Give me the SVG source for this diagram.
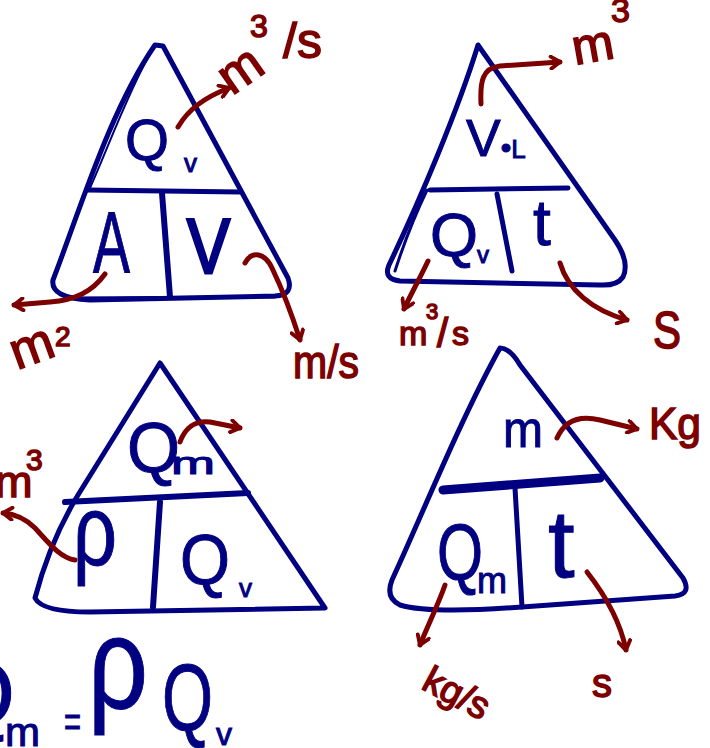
<svg xmlns="http://www.w3.org/2000/svg" width="710" height="748" viewBox="0 0 710 748">
<defs>
<style>
.b{fill:none;stroke:#000080;stroke-width:5;stroke-linecap:round;stroke-linejoin:round}
.r{fill:none;stroke:#7d0000;stroke-width:5;stroke-linecap:round;stroke-linejoin:round}
.tb{font-family:"Liberation Sans","DejaVu Sans",sans-serif;fill:#000080;stroke:#000080;stroke-width:1}
.tr{font-family:"Liberation Sans","DejaVu Sans",sans-serif;fill:#7d0000;stroke:#7d0000;stroke-width:1.5}
</style>
<marker id="ah" viewBox="0 0 10 10" markerWidth="3" markerHeight="3" refX="8" refY="5" orient="auto" markerUnits="strokeWidth">
<path d="M2,1 L8,5 L2,9" fill="none" stroke="#7d0000" stroke-width="2.6" stroke-linecap="round" stroke-linejoin="round"/>
</marker>
</defs>
<rect width="710" height="748" fill="#ffffff"/>

<g id="triangle-flow">
<path class="b" d="M163,46 L288,278 Q294,295 275,296 L90,300 Q50,298 53,280 C80,210 110,110 155,45 Z"/>
<path class="b" style="stroke-width:2" d="M151,52 C128,92 108,148 90,188"/>
<path class="b" style="stroke-width:3" d="M70,298 L275,297"/>
<path class="b" d="M87,190 L240,192"/>
<path class="b" style="stroke-width:6" d="M162,193 L170,297"/>
<text class="tb" x="125" y="160" font-size="58" textLength="44" lengthAdjust="spacingAndGlyphs">Q</text>
<text class="tb" x="184" y="172" font-size="26">v</text>
<text class="tb" x="93" y="273" font-size="88" textLength="37" lengthAdjust="spacingAndGlyphs">A</text>
<text class="tb" x="187" y="273" font-size="78" textLength="43" lengthAdjust="spacingAndGlyphs" style="stroke-width:3">V</text>
</g>

<g id="triangle-volume">
<path class="b" d="M478,45 L615,240 Q630,262 623,277 Q617,286 600,285 L400,281 Q383,279 389,265 C420,200 458,110 478,45 Z"/>
<path class="b" style="stroke-width:3" d="M395,271 C405,240 415,215 427,190"/>
<path class="b" d="M430,190 L568,188"/>
<path class="b" d="M497,194 L512,271"/>
<text class="tb" x="466" y="156" font-size="52">V<tspan font-size="30" dx="0" dy="2">•</tspan><tspan font-size="26" dx="0">L</tspan></text>
<text class="tb" x="430" y="256" font-size="62" textLength="48" lengthAdjust="spacingAndGlyphs">Q</text>
<text class="tb" x="477" y="263" font-size="24">v</text>
<text class="tb" x="533" y="245" font-size="64">t</text>
</g>

<g id="triangle-mass-flow">
<path class="b" d="M160,363 L325,608 L90,612 Q42,612 35,598 C45,560 58,528 78,495 L160,363 Z"/>
<path class="b" style="stroke-width:6" d="M65,502 L248,493"/>
<path class="b" style="stroke-width:6" d="M160,502 L153,607"/>
<text class="tb" x="127" y="472" font-size="70" textLength="53" lengthAdjust="spacingAndGlyphs">Q</text>
<text class="tb" x="171" y="474" font-size="32" textLength="44" lengthAdjust="spacingAndGlyphs">m</text>
<text class="tb" x="73" y="565" font-size="100" textLength="44" lengthAdjust="spacingAndGlyphs">ρ</text>
<text class="tb" x="180" y="584" font-size="70" textLength="50" lengthAdjust="spacingAndGlyphs">Q</text>
<text class="tb" x="239" y="597" font-size="26">v</text>
</g>

<g id="triangle-mass">
<path class="b" d="M500,348 Q510,348 520,365 L683,578 Q692,594 675,596 L522,607 Q430,614 400,605 Q385,598 392,580 C420,520 460,420 500,348 Z"/>
<path class="b" style="stroke-width:9" d="M443,490 L600,478"/>
<path class="b" d="M515,488 L522,607"/>
<text class="tb" x="503" y="447" font-size="52" textLength="40" lengthAdjust="spacingAndGlyphs">m</text>
<text class="tb" x="437" y="580" font-size="80" textLength="46" lengthAdjust="spacingAndGlyphs">Q</text>
<text class="tb" x="477" y="593" font-size="36" textLength="30" lengthAdjust="spacingAndGlyphs">m</text>
<text class="tb" x="548" y="577" font-size="96">t</text>
</g>

<g id="equation">
<text class="tb" x="-55" y="725" font-size="90">Q</text>
<text class="tb" x="5" y="746" font-size="40" textLength="35" lengthAdjust="spacingAndGlyphs">m</text>
<text class="tb" x="64" y="736" font-size="42" textLength="17" lengthAdjust="spacingAndGlyphs">=</text>
<text class="tb" x="88" y="708" font-size="130" textLength="60" lengthAdjust="spacingAndGlyphs">ρ</text>
<text class="tb" x="162" y="730" font-size="95" textLength="51" lengthAdjust="spacingAndGlyphs">Q</text>
<text class="tb" x="216" y="745" font-size="32">v</text>
</g>

<g id="connectors">
<path class="r" marker-end="url(#ah)" d="M178,127 C188,110 203,98 229,88"/>
<path class="r" marker-end="url(#ah)" d="M105,274 C92,292 75,300 50,302 L14,305"/>
<path class="r" marker-end="url(#ah)" d="M245,263 C252,250 265,253 272,268 C285,295 293,318 300,340"/>
<path class="r" marker-end="url(#ah)" d="M481,104 C480,82 482,68 500,66 L560,62"/>
<path class="r" marker-end="url(#ah)" d="M428,261 C420,278 412,292 404,309"/>
<path class="r" marker-end="url(#ah)" d="M560,263 C568,290 592,310 627,320"/>
<path class="r" marker-end="url(#ah)" d="M180,442 C185,428 195,420 210,422 L240,428"/>
<path class="r" marker-end="url(#ah)" d="M75,560 C60,558 48,542 35,528 C25,518 15,514 3,513"/>
<path class="r" marker-end="url(#ah)" d="M557,438 C565,420 580,415 600,420 L637,429"/>
<path class="r" marker-end="url(#ah)" d="M445,585 C438,605 428,625 420,645"/>
<path class="r" marker-end="url(#ah)" d="M587,572 C605,595 620,620 626,650"/>
</g>

<g id="labels">
<text class="tr" font-size="52"><tspan x="232" y="96" rotate="-35">m</tspan><tspan x="250" y="37" font-size="32">3</tspan><tspan x="283" y="58" font-size="50">/s</tspan></text>
<text class="tr" font-size="52"><tspan x="17" y="370" rotate="-20">m</tspan><tspan x="55" y="346" font-size="28">2</tspan></text>
<text class="tr" x="293" y="378" font-size="46" textLength="66" lengthAdjust="spacingAndGlyphs">m/s</text>
<text class="tr" font-size="50"><tspan x="575" y="65" rotate="-10">m</tspan><tspan x="611" y="22" font-size="34">3</tspan></text>
<text class="tr" font-size="34"><tspan x="399" y="345">m</tspan><tspan x="426" y="319" font-size="22">3</tspan><tspan x="437" y="347" font-size="40">/</tspan><tspan x="452" y="345">s</tspan></text>
<text class="tr" x="653" y="348" font-size="52" textLength="28" lengthAdjust="spacingAndGlyphs">S</text>
<text class="tr" x="-5" y="497" font-size="45">m<tspan x="26" y="470" font-size="30">3</tspan></text>
<text class="tr" x="649" y="439" font-size="44" textLength="52" lengthAdjust="spacingAndGlyphs">Kg</text>
<text class="tr" x="420" y="688" font-size="38" transform="rotate(28 420 688)">kg/s</text>
<text class="tr" x="592" y="697" font-size="40">s</text>
</g>
</svg>
